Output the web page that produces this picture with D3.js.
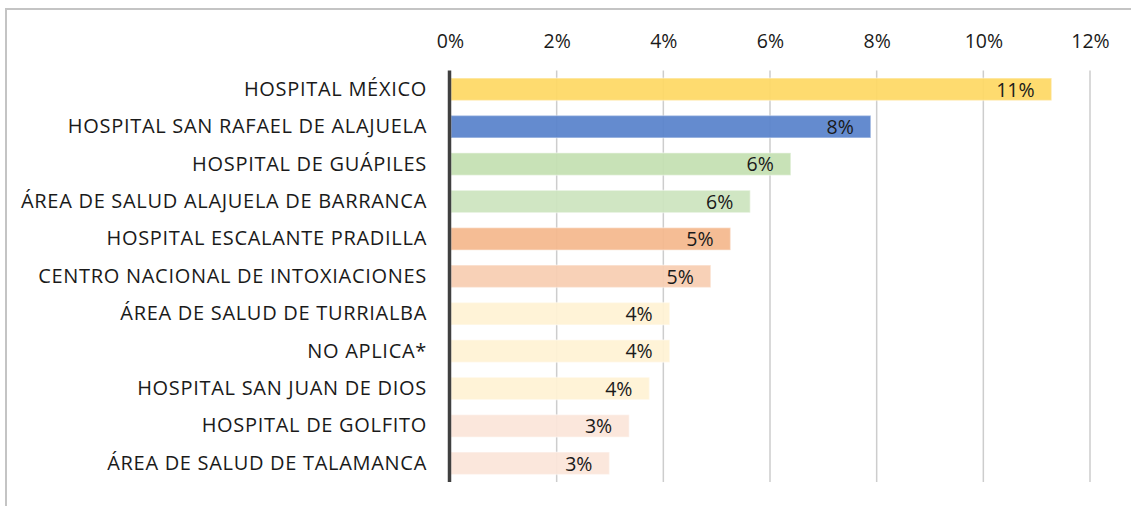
<!DOCTYPE html>
<html><head><meta charset="utf-8">
<script src="https://cdn.jsdelivr.net/npm/d3@7"></script>
<style>
html,body{margin:0;padding:0;background:#fff;}
svg{display:block;}
text{font-family:"Open Sans",sans-serif;fill:#1a1a1a;}
</style></head><body>
<svg id="chart" width="1131" height="506"></svg>
<script>
const categories = ["HOSPITAL MÉXICO","HOSPITAL SAN RAFAEL DE ALAJUELA","HOSPITAL DE GUÁPILES","ÁREA DE SALUD ALAJUELA DE BARRANCA","HOSPITAL ESCALANTE PRADILLA","CENTRO NACIONAL DE INTOXIACIONES","ÁREA DE SALUD DE TURRIALBA","NO APLICA*","HOSPITAL SAN JUAN DE DIOS","HOSPITAL DE GOLFITO","ÁREA DE SALUD DE TALAMANCA"];
const values = [0.1128,0.0789,0.0639,0.0563,0.0526,0.0489,0.0412,0.0412,0.0374,0.0336,0.0299];
const valueLabels = ["11%","8%","6%","6%","5%","5%","4%","4%","4%","3%","3%"];
const colors = ["#FED966","#5A84CC","#C5E0B3","#CDE4BF","#F4B98E","#F8CEB2","#FFF2D4","#FFF2D4","#FFF2D4","#FBE6DA","#FBE6DA"];
const tickValues = [0,0.02,0.04,0.06,0.08,0.10,0.12];

const svg = d3.select("#chart");
// outer frame
svg.append("path").attr("d","M6,506 V9 H1131").attr("fill","none").attr("stroke","#c4c4c4").attr("stroke-width",2);

const x = d3.scaleLinear().domain([0,0.12]).range([450,1090]);
const y = d3.scaleBand().domain(categories).range([70.6,482]).paddingInner(0.4).paddingOuter(0.2);

// gridlines
svg.append("g").selectAll("line").data(tickValues.slice(1)).join("line")
  .attr("x1",d=>x(d)).attr("x2",d=>x(d)).attr("y1",70.6).attr("y2",482)
  .attr("stroke","#cdcdcd").attr("stroke-width",1.5);

// top axis labels
const xAxis = d3.axisTop(x).tickValues(tickValues).tickFormat(d3.format(".0%")).tickSize(0).tickPadding(0);
const gx = svg.append("g").attr("transform","translate(0,48)").call(xAxis);
gx.select(".domain").remove();
gx.selectAll("text").attr("font-size",19.5).attr("font-family","Open Sans, sans-serif").attr("fill","#1a1a1a").attr("dy",0);

// bars
svg.append("g").selectAll("rect").data(values).join("rect")
  .attr("x",x(0)+1).attr("y",(d,i)=>y(categories[i]))
  .attr("width",d=>x(d)-x(0)-1).attr("height",y.bandwidth())
  .attr("fill",(d,i)=>colors[i]).attr("fill-opacity",0.94)
  .attr("stroke","#ffffff").attr("stroke-opacity",0.35).attr("stroke-width",1.5);

// value labels
svg.append("g").selectAll("text").data(values).join("text")
  .attr("x",d=>x(d)-17).attr("y",(d,i)=>y(categories[i])+y.bandwidth()/2+2)
  .attr("text-anchor","end").attr("dominant-baseline","middle")
  .attr("font-size",19.5).text((d,i)=>valueLabels[i]);

// category axis
const yAxis = d3.axisLeft(y).tickSize(0).tickPadding(23);
const gy = svg.append("g").attr("transform","translate(450,0)").call(yAxis);
gy.select(".domain").remove();
gy.selectAll("text").attr("font-size",20).attr("letter-spacing",0.7).attr("font-family","Open Sans, sans-serif").attr("fill","#1a1a1a");

// zero axis line
svg.append("line").attr("x1",449.5).attr("x2",449.5).attr("y1",70.6).attr("y2",482)
  .attr("stroke","#404040").attr("stroke-width",3.5);
</script></body></html>
